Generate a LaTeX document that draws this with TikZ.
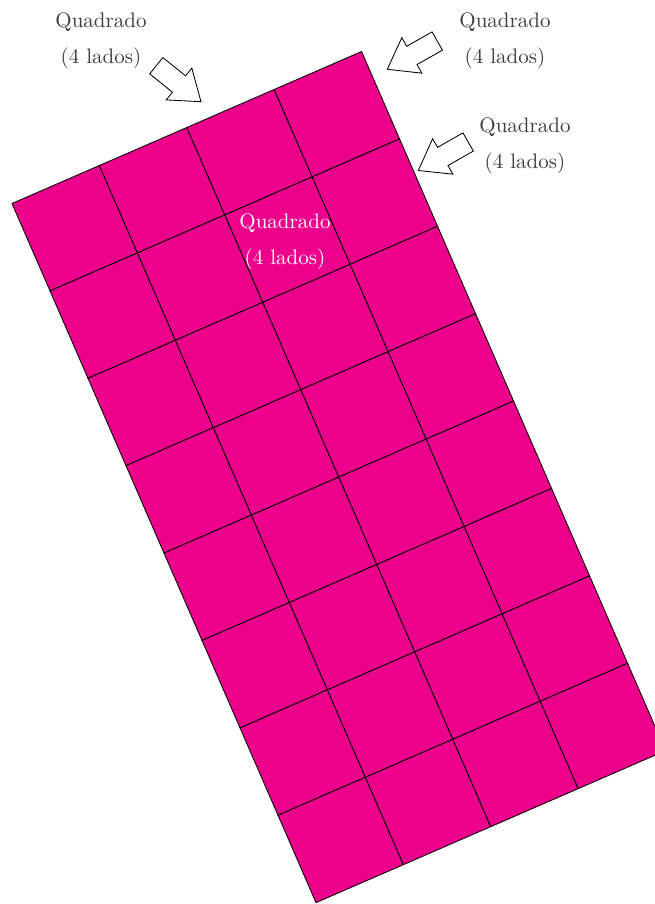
\documentclass[tikz,border=0pt]{standalone}
\usepackage{tikz}
\usetikzlibrary{positioning}
\definecolor{quadfill}{RGB}{236,0,140}
\definecolor{lblgray}{RGB}{60,60,60}

\begin{document}
\begin{tikzpicture}[x=0.476pt,y=-0.476pt,
  quadsq/.style={draw=black,fill=quadfill,line width=0.4pt},
  lbl/.style={align=center,text=lblgray,inner sep=0pt},
  pointer/.pic={\draw[fill=white,line width=0.4pt]
    (0,0) -- (-28.2,20.4) -- (-28.2,10.5) -- (-57.4,10.5)
    -- (-57.4,-10.5) -- (-28.2,-10.5) -- (-28.2,-20.4) -- cycle;}
]
\useasboundingbox (0,0) rectangle (654,904);
% grid of squares, 4 x 8, tilted
\begin{scope}[shift={(12,203.5)},rotate=23.5]
\foreach \col in {0,...,3}
  \foreach \row in {0,...,7}
    \draw[quadsq] (\col*95.3,\row*95.3) rectangle ++(95.3,95.3);
\end{scope}
% labels
\node[lbl] (lblA) at (101,41) {Quadrado\\[5pt](4 lados)};
\node[lbl] (lblB) at (505,41) {Quadrado\\[5pt](4 lados)};
\node[lbl] (lblC) at (525,146) {Quadrado\\[5pt](4 lados)};
\node[lbl,text=white] (lblD) at (285,242) {Quadrado\\[5pt](4 lados)};
% pointers
\pic[rotate=-38.8] at (201,101.7) {pointer};
\pic[rotate=209.5] at (387.3,69.3) {pointer};
\pic[rotate=209.8] at (418.3,170.5) {pointer};
\end{tikzpicture}
\end{document}
